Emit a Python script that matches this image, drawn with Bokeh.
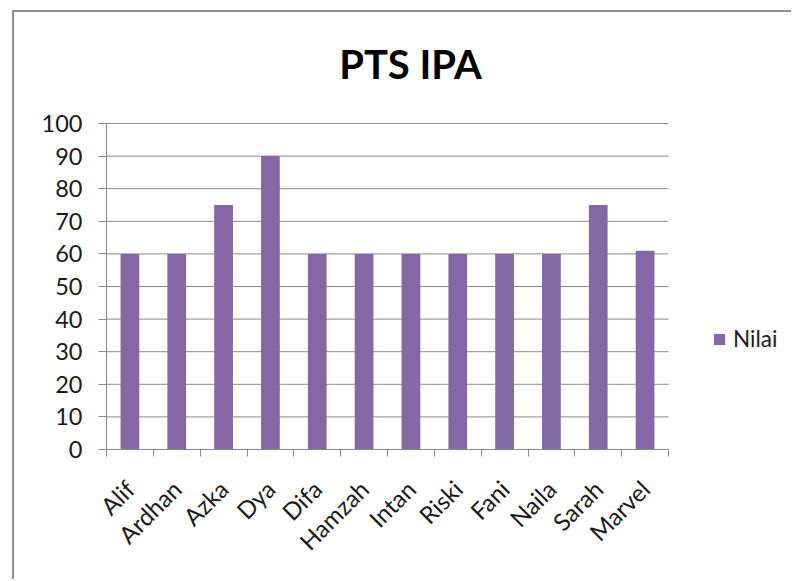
import math
from bokeh.plotting import figure
from bokeh.models import (ColumnDataSource, FixedTicker, Legend, LegendItem, Range1d, Label)
from bokeh.embed import file_html
from bokeh.resources import INLINE

# ---- data ----
names = ["Alif", "Ardhan", "Azka", "Dya", "Difa", "Hamzah", "Intan",
         "Riski", "Fani", "Naila", "Sarah", "Marvel"]
nilai = [60, 60, 75, 90, 60, 60, 60, 60, 60, 60, 75, 61]
y_ticks = [0, 10, 20, 30, 40, 50, 60, 70, 80, 90, 100]
series_name = "Nilai"
title_text = "PTS IPA"

FONT = "Lato"
BAR = "#8468A6"
GRID = "#8a8a8a"

n = len(names)
y_max = y_ticks[-1]
centers = [i + 0.5 for i in range(n)]
src = ColumnDataSource(dict(x=centers, top=nilai, name=names))
grid_src = ColumnDataSource(dict(y=y_ticks, x0=[0] * len(y_ticks), x1=[n] * len(y_ticks)))

# ---- layout (canvas pixels) ----
W, H = 779, 569
FL = 92            # frame left
FB = 437           # frame bottom (value 0)
Y100 = 111         # canvas y of the top tick
CAT_W = 562        # px taken by the 12 categories
px_x = CAT_W / n
px_y = (FB - Y100) / y_max
x_end = (W - FL) / px_x
y_end = FB / px_y

p = figure(width=W, height=H, output_backend="svg", toolbar_location=None,
           x_range=Range1d(0, x_end), y_range=Range1d(0, y_end),
           min_border_left=FL, min_border_right=0,
           min_border_top=0, min_border_bottom=H - FB)
p.margin = (12, 0, 0, 14)
p.styles = {"box-shadow": "-2px -2px 0 0 #8f8f8f"}
p.outline_line_color = None
p.background_fill_color = "white"
p.border_fill_color = "white"
p.xgrid.grid_line_color = None
p.ygrid.grid_line_color = None

p.segment(x0="x0", x1="x1", y0="y", y1="y", source=grid_src,
          line_color=GRID, line_width=1)
r = p.vbar(x="x", top="top", bottom=0, width=0.40, source=src,
           fill_color=BAR, line_color=None)

# y axis
p.yaxis.bounds = (0, y_max)
p.yaxis.ticker = FixedTicker(ticks=y_ticks)
p.yaxis.axis_line_color = GRID
p.yaxis.major_tick_line_color = GRID
p.yaxis.major_tick_out = 8
p.yaxis.major_tick_in = 0
p.yaxis.minor_tick_line_color = None
p.yaxis.major_label_text_font = FONT
p.yaxis.major_label_text_font_size = "23.5px"
p.yaxis.major_label_text_color = "#1a1a1a"
p.yaxis.major_label_standoff = 16

# x axis: labels at centres, ticks at boundaries
p.xaxis.bounds = (0, n)
p.xaxis.ticker = FixedTicker(ticks=centers, minor_ticks=list(range(n + 1)))
p.xaxis.major_label_overrides = {c: nm for c, nm in zip(centers, names)}
p.xaxis.major_tick_line_color = None
p.xaxis.minor_tick_line_color = GRID
p.xaxis.minor_tick_out = 7
p.xaxis.minor_tick_in = 0
p.xaxis.axis_line_color = GRID
p.xaxis.major_label_orientation = math.pi / 4
p.xaxis.major_label_text_font = FONT
p.xaxis.major_label_text_font_size = "24px"
p.xaxis.major_label_text_color = "#1a1a1a"
p.xaxis.major_label_standoff = 28

# title (inside the frame, above the plotted area)
p.add_layout(Label(x=304 / px_x, y=(FB - 51) / px_y, text=title_text,
                   text_align="center", text_baseline="alphabetic",
                   text_font=FONT, text_font_style="bold",
                   text_font_size="40px", text_color="#000000"))

# legend inside the (extended) frame
legend = Legend(items=[LegendItem(label=series_name, renderers=[r])],
                location=(606, 97), glyph_width=14, glyph_height=14,
                label_text_font=FONT, label_text_font_size="22.5px",
                label_text_color="#1a1a1a", label_standoff=7,
                padding=0, margin=0, border_line_color=None,
                background_fill_alpha=0)
p.add_layout(legend, "center")

open("out.html", "w").write(file_html(p, INLINE))
